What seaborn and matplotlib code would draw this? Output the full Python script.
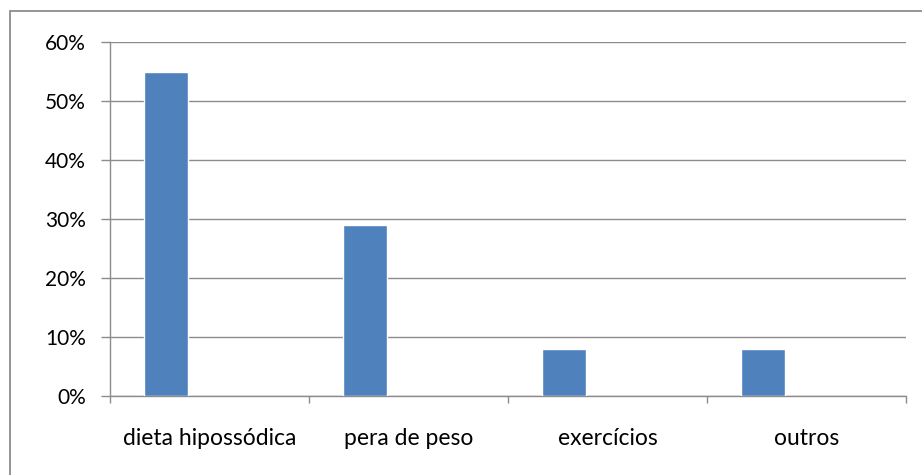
import numpy as np
import pandas as pd
import matplotlib
matplotlib.use("Agg")
import matplotlib.pyplot as plt
from matplotlib.patches import Rectangle
from matplotlib.ticker import PercentFormatter, FixedLocator
import seaborn as sns

# data
categorias = ["dieta hipossódica", "pera de peso", "exercícios", "outros"]
valores = [0.55, 0.29, 0.08, 0.08]
# the source chart is an Excel clustered bar with 3 series, only the first filled
series = ["s1", "s2", "s3"]

sns.set_style("white")
plt.rcParams["font.family"] = ["Lato", "DejaVu Sans"]

df = pd.DataFrame({"categoria": categorias, "valor": valores, "serie": "s1"})

fig = plt.figure(figsize=(9.22, 4.75), dpi=100)
ax = fig.add_axes([110 / 922, 1 - 396 / 475, 796 / 922, 354 / 475])

sns.barplot(data=df, x="categoria", y="valor", hue="serie", hue_order=series,
            order=categorias, palette=["#4F81BD"] * 3, width=0.66, dodge=True,
            saturation=1, legend=False, ax=ax, zorder=3)

ax.set_xlim(-0.5, len(categorias) - 0.5)
ax.set_ylim(0, 0.6)
ax.yaxis.set_major_locator(FixedLocator(np.arange(0, 0.61, 0.1)))
ax.yaxis.set_major_formatter(PercentFormatter(1.0, decimals=0))
ax.grid(axis="y", color="#8C8C8C", linewidth=1.0, zorder=0)
ax.set_axisbelow(True)

# category boundary ticks as major, labels on minor ticks
ax.set_xticks(np.arange(-0.5, len(categorias), 1.0))
ax.set_xticklabels([])
ax.set_xticks(np.arange(len(categorias)), minor=True)
ax.set_xticklabels(categorias, minor=True)
ax.tick_params(axis="x", which="major", length=5, width=1, color="#8C8C8C", direction="out")
ax.tick_params(axis="x", which="minor", length=0, pad=23, labelsize=16.5, labelcolor="#000000")
ax.tick_params(axis="y", length=6.5, width=1, color="#8C8C8C", direction="out",
               pad=11, labelsize=15, labelcolor="#000000")
ax.tick_params(bottom=True, left=True)

for side in ["top", "right"]:
    ax.spines[side].set_visible(False)
for side in ["left", "bottom"]:
    ax.spines[side].set_color("#8C8C8C")
    ax.spines[side].set_linewidth(1.0)

ax.set_xlabel("")
ax.set_ylabel("")

# outer chart border (only top and left visible in the crop)
fig.patches.append(Rectangle((9.5 / 922, -0.1), 1.2, 1 - 10.5 / 475 + 0.1,
                             transform=fig.transFigure, fill=False,
                             edgecolor="#8C8C8C", linewidth=1.3))

fig.savefig("out.png", dpi=100)
